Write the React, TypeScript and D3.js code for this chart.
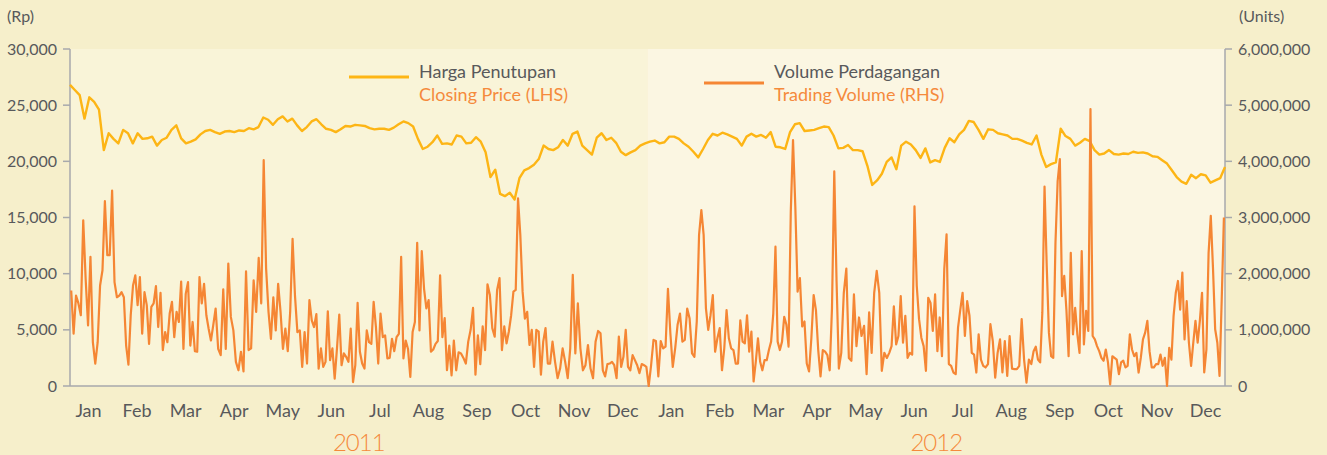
import React from "react";
import * as d3 from "d3";

// month labels along the bottom, two years
const monthNames = ["Jan", "Feb", "Mar", "Apr", "May", "Jun", "Jul", "Aug", "Sep", "Oct", "Nov", "Dec"];
const years = ["2011", "2012"];

// axis ticks
const priceTicks = [0, 5000, 10000, 15000, 20000, 25000, 30000]; // Rp
const volumeTicks = [0, 1, 2, 3, 4, 5, 6]; // million units

// closing price (Rp), ~2 trading days per value
const price2011 = [
  26800, 26350, 25900, 23800, 25700, 25300, 24600, 21000, 22500, 22000,
  21600, 22800, 22500, 21600, 22500, 22000, 22050, 22200, 21400, 21900,
  22100, 22800, 23200, 22050, 21600, 21750, 21950, 22400, 22700, 22800,
  22600, 22450, 22650, 22700, 22600, 22750, 22700, 22950, 22850, 23050,
  23900, 23700, 23250, 23750, 24000, 23550, 23800, 23200, 22700, 23050,
  23550, 23750, 23300, 22900, 22800, 22600, 22850, 23150, 23100, 23250,
  23200, 23150, 22950, 22850, 22900, 22900, 22800, 23000, 23300, 23550,
  23400, 23100, 22000, 21100, 21300, 21700, 22300, 21550, 21600, 21500,
  22300, 22200, 21600, 21650, 22150, 21750, 20800, 18600, 19250, 17100,
  16900, 17200, 16600, 18500, 19200, 19400, 19700, 20200, 21400, 21100,
  21000, 21250, 21900, 21400, 22450, 22650, 21400, 21000, 20600, 22100,
  22500, 21900, 22100, 21650, 20850, 20550, 20800, 21000, 21400, 21600,
];
const price2012 = [
  21750, 21850, 21600, 21700, 22200, 22200, 22000, 21600, 21300, 20850,
  20350, 21100, 21900, 22450, 22300, 22550, 22400, 22200, 22000, 21400,
  22200, 22450, 22200, 22350, 22100, 22600, 21300, 21250, 21100, 22600,
  23300, 23400, 22700, 22750, 22800, 22950, 23100, 23050, 22300, 21150,
  21200, 21450, 21000, 21000, 20900, 19600, 17900, 18300, 18900, 19950,
  20350, 19300, 21400, 21750, 21500, 21000, 20300, 21150, 19900, 20100,
  19950, 21200, 22050, 21700, 22400, 22800, 23600, 23500, 22800, 22000,
  22850, 22800, 22500, 22400, 22300, 22000, 22000, 21850, 21650, 21500,
  22300, 20600, 19500, 19750, 19900, 22900, 22250, 22000, 21400, 21650,
  22000, 21800, 21000, 20600, 20700, 21000, 20650, 20600, 20700, 20650,
  20850, 20750, 20800, 20700, 20450, 20400, 20100, 19800, 19200, 18600,
  18200, 18000, 18800, 18500, 18850, 18750, 18100, 18300, 18500, 19500,
];

// trading volume (million units), daily values grouped by month
const volume2011 = [
  [1.70, 0.93, 1.61, 1.47, 1.26, 2.95, 1.91, 1.08, 2.30, 0.78, 0.40, 0.78, 1.79, 2.06, 3.29, 2.33, 2.33, 3.48, 1.85, 1.58],
  [1.61, 1.67, 1.58, 0.72, 0.38, 1.26, 1.79, 1.97, 1.44, 1.94, 0.93, 1.67, 1.44, 0.75, 1.41, 1.47, 1.78, 1.05, 1.66, 0.64, 0.96],
  [0.78, 1.29, 1.50, 0.87, 1.32, 1.14, 1.86, 0.66, 1.64, 1.85, 0.72, 1.14, 0.62, 0.61, 1.94, 1.47, 1.82, 1.26, 1.02, 0.81, 1.08],
  [1.38, 0.66, 0.55, 1.72, 0.66, 2.18, 1.23, 0.99, 0.43, 0.28, 0.61, 0.26, 2.04, 0.64, 0.67, 1.88, 1.32, 2.28, 1.47],
  [4.02, 2.09, 1.32, 0.84, 1.58, 0.99, 1.82, 1.32, 0.66, 1.02, 0.62, 1.32, 2.62, 1.61, 0.96, 0.99, 0.34, 0.96, 0.40, 1.53],
  [1.17, 1.05, 1.28, 0.31, 0.67, 0.34, 0.43, 1.33, 0.46, 0.67, 0.13, 0.67, 1.27, 0.37, 0.58, 0.52, 0.43, 1.02, 0.07, 0.37, 1.48],
  [0.61, 0.40, 0.31, 0.99, 0.78, 0.75, 1.50, 1.05, 0.40, 1.29, 0.87, 0.90, 0.49, 0.50, 0.84, 0.62, 0.87, 0.93, 2.30, 0.49, 0.81],
  [0.66, 0.16, 0.96, 1.14, 2.55, 0.99, 2.40, 1.73, 1.38, 1.53, 0.61, 0.65, 0.75, 0.80, 1.97, 0.87, 1.21, 0.28, 0.72, 0.19, 0.81],
  [0.28, 0.60, 0.58, 0.50, 0.40, 0.79, 1.00, 1.39, 0.20, 0.90, 0.39, 1.06, 0.64, 1.81, 1.62, 1.03, 0.88, 1.71, 1.92, 0.64],
  [1.06, 0.76, 0.97, 1.26, 1.68, 1.71, 3.34, 2.69, 1.68, 1.20, 1.32, 0.73, 1.00, 0.34, 1.00, 0.97, 0.20, 0.79, 1.03, 0.40, 0.40],
  [0.79, 0.43, 0.14, 0.31, 0.67, 0.43, 0.14, 0.67, 1.98, 0.58, 1.47, 0.67, 0.28, 0.37, 0.73, 0.31, 0.14, 0.79, 0.98],
  [0.94, 0.28, 0.17, 0.39, 0.40, 0.43, 0.37, 0.14, 0.88, 0.34, 0.52, 1.00, 0.34, 0.28, 0.55, 0.46, 0.37, 0.23, 0.39, 0.37, 0.34],
];
const volume2012 = [
  [0.00, 0.37, 0.82, 0.80, 0.17, 0.80, 0.67, 0.70, 1.73, 0.94, 0.34, 0.67, 1.09, 1.29, 0.79, 0.82, 1.38, 1.20, 0.58, 0.52],
  [1.15, 2.69, 3.13, 2.69, 1.38, 1.00, 1.26, 1.62, 0.61, 0.85, 1.03, 0.28, 0.67, 1.35, 0.85, 0.67, 0.64, 0.40, 0.40, 1.17, 0.79],
  [0.76, 1.26, 0.61, 0.97, 0.08, 0.43, 0.85, 0.43, 0.28, 0.46, 0.46, 0.64, 0.79, 1.29, 2.48, 0.79, 0.64, 0.79, 1.23, 1.09, 0.70, 3.10],
  [4.38, 3.20, 1.68, 1.92, 1.06, 1.15, 0.40, 0.26, 0.85, 1.62, 1.35, 0.64, 0.17, 0.64, 0.61, 0.55, 0.28, 1.38, 3.82, 1.86, 0.31],
  [0.59, 1.66, 2.09, 0.50, 0.45, 1.63, 0.71, 1.22, 0.89, 1.07, 0.21, 1.31, 0.59, 1.66, 2.05, 1.66, 0.27, 0.59, 0.50],
  [0.59, 0.71, 1.42, 0.74, 0.89, 1.60, 0.77, 1.25, 0.50, 0.59, 0.56, 3.20, 1.78, 1.19, 0.86, 0.71, 0.27, 1.57, 1.48, 0.98, 1.63],
  [0.62, 1.22, 0.53, 2.08, 2.70, 0.39, 0.36, 0.24, 0.21, 1.04, 1.36, 1.66, 0.89, 1.51, 1.25, 0.59, 0.56, 0.24, 0.92, 0.47, 0.36],
  [0.33, 0.39, 1.10, 0.80, 0.15, 0.59, 0.83, 0.24, 0.80, 0.18, 0.89, 0.31, 0.30, 0.30, 0.36, 1.19, 0.47, 0.06, 0.47, 0.39],
  [0.62, 0.70, 0.47, 0.42, 1.31, 3.55, 2.14, 0.95, 0.53, 0.50, 2.55, 3.65, 4.04, 1.60, 1.96, 1.36, 0.53, 2.37, 0.92, 1.39, 0.92, 0.59],
  [2.40, 0.74, 1.34, 0.98, 4.93, 0.89, 0.83, 0.71, 0.62, 0.50, 0.45, 0.65, 0.42, 0.03, 0.53, 0.50, 0.47, 0.21, 0.42, 0.45, 0.33, 0.36],
  [0.92, 0.65, 0.53, 0.59, 0.24, 0.50, 0.83, 0.95, 1.16, 0.62, 0.33, 0.33, 0.39, 0.39, 0.56, 0.36, 0.50, 0.00, 0.68, 0.47, 1.25, 1.66],
  [1.87, 1.36, 2.02, 0.83, 1.51, 0.77, 0.36, 0.77, 1.16, 0.77, 1.16, 1.66, 0.24, 0.65, 2.37, 3.03, 2.11, 1.01, 0.77, 0.18, 1.54, 3.00],
];

const W = 1327;
const H = 455;
const plot = { left: 70, right: 1225, top: 49, bottom: 386 };

const PRICE_COLOR = "#fdb515";
const VOLUME_COLOR = "#f58634";
const AXIS_COLOR = "#a7a9ac";
const TEXT_COLOR = "#58595b";
const ACCENT = "#f58a3c";
const FONT = "Lato, 'Open Sans', sans-serif";

export default function App() {
  // x in months since Jan 2011
  const x = d3.scaleLinear().domain([0, 24]).range([plot.left, plot.right]);
  const yPrice = d3.scaleLinear().domain([0, 30000]).range([plot.bottom, plot.top]);
  const yVolume = d3.scaleLinear().domain([0, 6]).range([plot.bottom, plot.top]);

  const monthKeys = years.flatMap((yr) => monthNames.map((m) => `${m} ${yr}`));
  const monthX = d3.scalePoint<string>().domain(monthKeys).range([88.5, 1205.5]);

  const prices = [...price2011, ...price2012];
  const pricePoints: [number, number][] = prices.map((v, i) => [(i * 24) / (prices.length - 1), v]);
  const volumePoints: [number, number][] = [...volume2011, ...volume2012].flatMap((month, m) =>
    month.map((v, j) => [m + (j + 0.5) / month.length, v] as [number, number])
  );

  const priceLine = d3
    .line<[number, number]>()
    .x((d) => x(d[0]))
    .y((d) => yPrice(d[1]));
  const volumeLine = d3
    .line<[number, number]>()
    .x((d) => x(d[0]))
    .y((d) => yVolume(d[1]));

  const fmt = d3.format(",");

  return (
    <div style={{ position: "absolute", left: 0, top: 0 }}>
      <svg width={W} height={H} style={{ display: "block" }} fontFamily={FONT}>
        <rect x={0} y={0} width={W} height={H} fill="#f6efcb" />
        {/* plot background, one shade per year */}
        <rect x={x(0)} y={plot.top} width={x(12) - x(0)} height={plot.bottom - plot.top} fill="#f9f4d8" />
        <rect x={x(12)} y={plot.top} width={x(24) - x(12)} height={plot.bottom - plot.top} fill="#fbf6e2" />

        {/* unit labels */}
        <text x={7} y={22} fontSize={16} fill={TEXT_COLOR}>(Rp)</text>
        <text x={1239} y={22} fontSize={16} fill={TEXT_COLOR}>(Units)</text>

        {/* left axis */}
        <line x1={plot.left} x2={plot.left} y1={plot.top} y2={plot.bottom} stroke={AXIS_COLOR} strokeWidth={1.5} />
        {priceTicks.map((t) => (
          <g key={"p" + t}>
            <line x1={plot.left - 7} x2={plot.left} y1={yPrice(t)} y2={yPrice(t)} stroke={AXIS_COLOR} strokeWidth={1.5} />
            <text x={57} y={yPrice(t)} dy="0.35em" textAnchor="end" fontSize={16} fill={TEXT_COLOR}>
              {fmt(t)}
            </text>
          </g>
        ))}

        {/* right axis */}
        <line x1={plot.right} x2={plot.right} y1={plot.top} y2={plot.bottom} stroke={AXIS_COLOR} strokeWidth={1.5} />
        {volumeTicks.map((t) => (
          <g key={"v" + t}>
            <line x1={plot.right} x2={plot.right + 7} y1={yVolume(t)} y2={yVolume(t)} stroke={AXIS_COLOR} strokeWidth={1.5} />
            <text x={1238} y={yVolume(t)} dy="0.35em" fontSize={16} fill={TEXT_COLOR}>
              {fmt(Math.round(t * 1e6))}
            </text>
          </g>
        ))}

        {/* bottom axis */}
        <line x1={plot.left} x2={plot.right} y1={plot.bottom} y2={plot.bottom} stroke={AXIS_COLOR} strokeWidth={1.5} />
        {monthKeys.map((k) => (
          <text key={k} x={monthX(k)} y={417} textAnchor="middle" fontSize={18} fill={TEXT_COLOR}>
            {k.split(" ")[0]}
          </text>
        ))}
        {years.map((yr, i) => (
          <text key={yr} x={x(i * 12 + 6)} y={451} textAnchor="middle" fontSize={24} fontWeight={300} letterSpacing={-1} fill={ACCENT}>
            {yr}
          </text>
        ))}

        {/* series */}
        <path d={priceLine(pricePoints) ?? ""} fill="none" stroke={PRICE_COLOR} strokeWidth={2.4} strokeLinejoin="round" />
        <path d={volumeLine(volumePoints) ?? ""} fill="none" stroke={VOLUME_COLOR} strokeWidth={2.2} strokeLinejoin="round" />

        {/* legend */}
        <line x1={349} x2={409} y1={77} y2={77} stroke={PRICE_COLOR} strokeWidth={3} />
        <text x={419} y={78} fontSize={18} fill={TEXT_COLOR}>Harga Penutupan</text>
        <text x={419} y={101} fontSize={18} fill={ACCENT}>Closing Price (LHS)</text>
        <line x1={704} x2={764} y1={83} y2={83} stroke={VOLUME_COLOR} strokeWidth={3} />
        <text x={774} y={78} fontSize={18} fill={TEXT_COLOR}>Volume Perdagangan</text>
        <text x={774} y={101} fontSize={18} fill={ACCENT}>Trading Volume (RHS)</text>
      </svg>
    </div>
  );
}
